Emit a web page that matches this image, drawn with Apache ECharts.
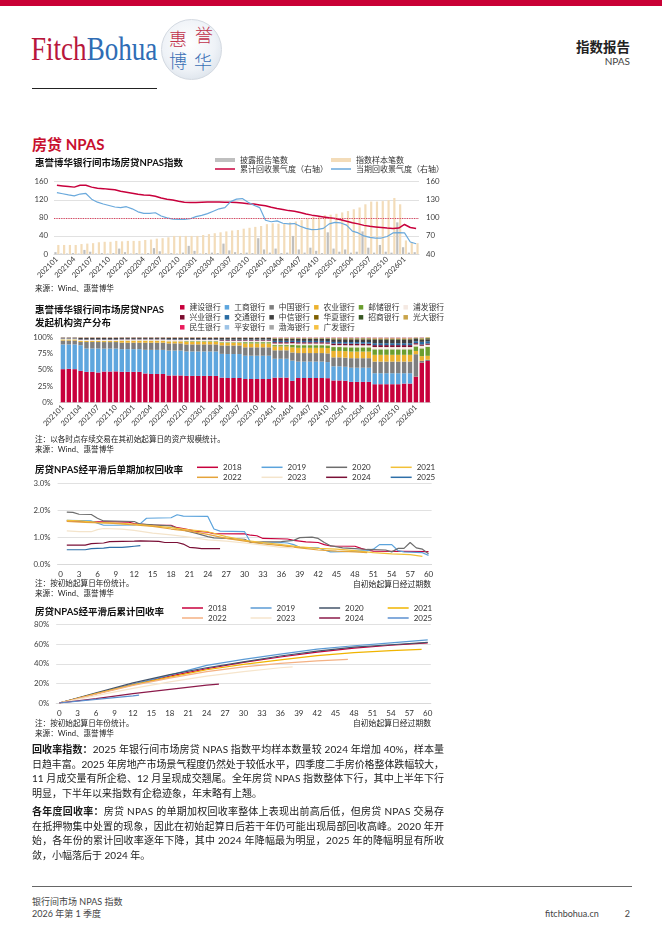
<!DOCTYPE html>
<html lang="zh">
<head>
<meta charset="utf-8">
<title>房贷 NPAS</title>
<script src="https://cdn.jsdelivr.net/npm/echarts@6.0.0/dist/echarts.min.js"></script>
<style>
  body { margin: 0; background: #fff; }
  #page { position: relative; width: 662px; height: 936px; overflow: hidden; background: #fff;
          font-family: Lato, "Noto Sans CJK SC", sans-serif; color: #1a1a1a; }
  .abs { position: absolute; white-space: nowrap; }
  .chart { position: absolute; left: 0; width: 662px; }
  .note { position: absolute; left: 35px; font-size: 7.6px; line-height: 10px; color: #222; white-space: nowrap; }
  .xname { position: absolute; right: 231px; font-size: 7.8px; line-height: 10px; color: #222; white-space: nowrap; }
  .line { position: absolute; left: 32px; font-size: 10px; line-height: 14px; white-space: nowrap; color: #1a1a1a; }
  .seal { position: absolute; left: 161px; top: 19px; width: 61px; height: 61px; border-radius: 50%; box-sizing: border-box;
          border: 1px solid #d3d9e1;
          background: radial-gradient(circle at 45% 40%, #ffffff 0%, #eef2f7 55%, #cfd8e2 100%); }
  .seal span { position: absolute; font-size: 18px; line-height: 19px; font-weight: 300; }
</style>
</head>
<body>
<div id="page">
  <!-- 页眉 -->
  <div class="abs" style="left:0;top:0;width:662px;height:6px;background:#c90035"></div>
  <div class="abs" style="left:31px;top:29px;font:33px 'Liberation Serif',serif;line-height:40px;transform:scaleX(0.82);transform-origin:0 0">
    <span style="color:#b8163c">Fitch</span><span style="color:#2f6db5">Bohua</span>
  </div>
  <div class="seal">
    <span style="left:7px;top:10px;color:#c0304a">惠</span>
    <span style="left:33px;top:6px;color:#c0304a">誉</span>
    <span style="left:7px;top:32px;color:#3a6fb5">博</span>
    <span style="left:32px;top:33px;color:#3a6fb5">华</span>
  </div>
  <div class="abs" style="left:32px;top:88px;width:125px;height:1px;background:#222"></div>
  <div class="abs" style="right:32px;top:39px;font-size:13.5px;line-height:16px;font-weight:bold;color:#222">指数报告</div>
  <div class="abs" style="right:32px;top:55px;font-size:10px;line-height:12px;color:#444">NPAS</div>
  <div class="abs" style="left:32px;top:135px;font-size:15px;line-height:18px;font-weight:bold;color:#c8102e">房贷 NPAS</div>

  <!-- 图表 -->
  <div id="c1" class="chart" style="top:150px;height:140px"></div>
  <div class="note" style="top:283px">来源：Wind、惠誉博华</div>

  <div id="c2" class="chart" style="top:295px;height:160px"></div>
  <div class="note" style="top:434px">注：以各时点存续交易在其初始起算日的资产规模统计。</div>
  <div class="note" style="top:444px">来源：Wind、惠誉博华</div>

  <div id="c3" class="chart" style="top:455px;height:135px"></div>
  <div class="note" style="top:578px">注：按初始起算日年份统计。</div>
  <div class="note" style="top:588px">来源：Wind、惠誉博华</div>
  <div class="xname" style="top:579px">自初始起算日经过期数</div>

  <div id="c4" class="chart" style="top:597px;height:135px"></div>
  <div class="note" style="top:718px">注：按初始起算日年份统计。</div>
  <div class="note" style="top:728px">来源：Wind、惠誉博华</div>
  <div class="xname" style="top:718px">自初始起算日经过期数</div>

  <!-- 正文 -->
  <div class="line jl" style="top:742px"><b>回收率指数：</b>2025 年银行间市场房贷 NPAS 指数平均样本数量较 2024 年增加 40%，样本量</div>
  <div class="line jl" style="top:756.5px">日趋丰富。2025 年房地产市场景气程度仍然处于较低水平，四季度二手房价格整体跌幅较大，</div>
  <div class="line jl" style="top:771px">11 月成交量有所企稳、12 月呈现成交翘尾。全年房贷 NPAS 指数整体下行，其中上半年下行</div>
  <div class="line" style="top:785.5px">明显，下半年以来指数有企稳迹象，年末略有上翘。</div>
  <div class="line jl" style="top:804px"><b>各年度回收率：</b>房贷 NPAS 的单期加权回收率整体上表现出前高后低，但房贷 NPAS 交易存</div>
  <div class="line jl" style="top:818.5px">在抵押物集中处置的现象，因此在初始起算日后若干年仍可能出现局部回收高峰。2020 年开</div>
  <div class="line jl" style="top:833px">始，各年份的累计回收率逐年下降，其中 2024 年降幅最为明显，2025 年的降幅明显有所收</div>
  <div class="line" style="top:847.5px">敛，小幅落后于 2024 年。</div>

  <!-- 页脚 -->
  <div class="abs" style="left:32px;top:886px;width:600px;height:1px;background:#666"></div>
  <div class="abs" style="left:32px;top:896px;font-size:9px;line-height:12px;color:#444">银行间市场 NPAS 指数</div>
  <div class="abs" style="left:32px;top:908px;font-size:9px;line-height:12px;color:#444">2026 年第 1 季度</div>
  <div class="abs" style="left:545px;top:908px;font-size:9px;line-height:12px;color:#444">fitchbohua.cn</div>
  <div class="abs" style="right:32px;top:908px;font-size:9px;line-height:12px;color:#444">2</div>
</div>

<script>
var FONT = 'Lato, "Noto Sans CJK SC", sans-serif';

// ---- 图1：房贷NPAS指数 ----
var months = [
  '202101','202102','202103','202104','202105','202106','202107','202108','202109','202110','202111','202112',
  '202201','202202','202203','202204','202205','202206','202207','202208','202209','202210','202211','202212',
  '202301','202302','202303','202304','202305','202306','202307','202308','202309','202310','202311','202312',
  '202401','202402','202403','202404','202405','202406','202407','202408','202409','202410','202411','202412',
  '202501','202502','202503','202504','202505','202506','202507','202508','202509','202510','202511','202512',
  '202601','202602','202603'
];
var disclosedCnt = [4,1,1,2,1,9,5,1,2,1, 2,12,4,1,2,1,2,13,6,1, 2,1,3,18,7,1,2,3,2,23,
  8,4,2,3,2,35,10,3,12,2, 3,40,10,3,14,7,2,48,12,5, 10,3,5,50,14,3,20,5,3,70, 15,3,4];
var sampleCnt = [20,20,20,20,22,23,24,26,27,27, 29,28,29,29,29,31,32,34,35,37, 40,40,40,40,40,42,44,46,48,50,
  52,53,56,58,60,62,66,68,67,67, 70,72,75,78,82,84,86,87,89,92, 95,99,103,110,116,116,117,119,124,110, 30,26,24];
var cumIndex = [154,153,152,151,154,154,151,149,148.5,147.5, 146.5,144,142.5,141,139,138,137.5,136,133,131,
  129.5,127.5,126,125.5,125.5,126,126.5,126.5,126.5,126, 126,125.5,124.5,123.5,123,121.5,120,117.5,115.5,114,
  112,111,109,106.5,104.5,103,101.5,100,99,97, 94.5,92,90,87.5,86,85,84,83,82.5,83, 89,84,82.5];
var curIndex = [142,140,138,136.5,139.5,140.5,131,126,123,120.5, 118,117,118.5,115,110,107.5,107.5,108.5,103,100,
  98,97.5,97.5,98.5,102,104,107,111,115,117, 127,131,132,126,121,117,96,93.5,95,91,
  90,90.5,86,82.5,80.5,81,82.5,90,92.5,91.5, 88,78,75,70,67.5,66.5,66.5,69,75,75.5, 75,60,57];

// ---- 图2：发起机构资产分布（原始份额，绘制前按月归一化为100%）----
var banks = ['建设银行','工商银行','中国银行','农业银行','邮储银行','浦发银行',
             '兴业银行','交通银行','中信银行','华夏银行','招商银行','光大银行',
             '民生银行','平安银行','渤海银行','广发银行'];
var bankColors = ['#c8003c','#5ea6de','#7f7f7f','#ecb22e','#6b9e2e','#f5e9e2',
                  '#7b0c2e','#2a6ca3','#3f3f3f','#7f6000','#385723','#c9a44a',
                  '#ea1c5c','#9dc3e6','#a6a6a6','#f6c143'];
var shareJianshe = [51,51.5,51,48.5,47,47,46,47,47,47.5,47,47,47,47,44.5,43.5,43.5,43.5,41,41,41,41,41,41,41,41,41,
  38,37,37,37,36,36,36,36,36,38,38,38,34,37,37,37,37,37,36,34,34,33,31,31,31,31,28,28,28,28,28,29,29,39.5,61,63.5];
var shareGongshang = [38,37.5,38,39.5,36,36,37,35,35,35,35,35,35,35,36.5,37,37,37,38,38,38,38,38,38,38,38,38,
  36.5,36.5,36.5,36.5,36,36,36,36,36,29,29,29,32,25,25,25,25,25,24,22,22,21.5,21.5,21.5,21.5,21.5,17,17,17,17,17,16,16,0,0,0];
var shareZhongguo = [6,6,6,5,10,10,10,10,10,10,10,10,10,10,11,11,11,11,11,11,11,11,11,11,11,11,11,
  13,13,13,13,13,13,13,13,13,13,13,13,13,13,13,13,13,13,13,14,14,14,14.5,14.5,14.5,14.5,18,18,18,18,18,18,18,34.5,3,2];
var shareNongye = [1.5,1.5,1.5,1.5,1.5,1.5,1.5,1.5,1.5,1.5, 3,3,3,3,3,3,3,3,3,3,3, 4,4,4,4,4,4,4,4,4,4,
  6,6,6,6,6,6,6,6, 8,8,8,8,8,8,8, 10,10,10,10,10,10,10, 10.5,10.5,10.5,10.5,10.5,10.5,10.5, 5,7,6];
var shareYouchu = [0.3,0.3,0.3,0.3,0.3,0.3,0.3,0.3,0.3,0.3,0.3,0.3,0.3,0.3,0.3,0.3,0.3,0.3,0.3,0.3,0.3,
  1,1,1,1,1,1,1,1,1,1, 2,2,2,2,2,2,2,2, 4,4,4,4,4,4,4, 6,6,6,6.5,6.5,6.5,6.5, 8.5,8.5,8.5,8.5,8.5,8.5,8.5, 7,12,14];
var sharePufa = [1,1,1, 1.5,1.5,1.5,1.5,1.5,1.5,1.5, 1.5,1.5,1.5,1.5,1.5,1.5,1.5,1.5, 1.8,1.8,1.8,1.8,1.8,1.8,1.8,1.8,1.8,
  2,2,2,2,2,2,2,2,2, 2.5,2.5,2.5,2.5,2.5,2.5,2.5,2.5,2.5,2.5, 3,3,3,3,3,3,3, 3.5,3.5,3.5,3.5,3.5,3.5,3.5, 3,4,3];
var shareXingye = [0.3,0.3,0.3, 0.5,0.5,0.5,0.5,0.5,0.5,0.5, 0.5,0.5,0.5,0.5,0.5,0.5,0.5,0.5, 0.6,0.6,0.6,0.6,0.6,0.6,0.6,0.6,0.6,
  1,1,1,1,1,1,1,1,1, 2,2,2,2,2,2,2,2,2,2, 2.5,2.5,2.5,2.5,2.5,2.5,2.5, 3,3,3,3,3,3,3, 2,2,2];
var shareJiaotong = [0.3,0.3,0.3, 0.5,0.5,0.5,0.5,0.5,0.5,0.5, 0.5,0.5,0.5,0.5,0.5,0.5,0.5,0.5, 0.7,0.7,0.7,0.7,0.7,0.7,0.7,0.7,0.7,
  1,1,1,1,1,1,1,1,1, 2,2,2,2,2,2,2,2,2,2, 2.5,2.5,2.5,2.5,2.5,2.5,2.5, 3,3,3,3,3,3,3, 3,4,3.5];
var shareZhongxin = [1,1,1, 2,2,2,2,2,2,2, 1.8,1.8,1.8,1.8,1.8,1.8,1.8,1.8, 2,2,2,2,2,2,2,2,2,
  2.5,2.5,2.5,2.5,2.5,2.5,2.5,2.5,2.5, 3,3,3,3,3,3,3,3,3,3, 4,4,4,4,4,4,4, 5,5,5,5,5,5,5, 4,3,3];
var shareHuaxia = [0.1,0.1,0.1, 0.2,0.2,0.2,0.2,0.2,0.2,0.2, 0.1,0.1,0.1,0.1,0.1,0.1,0.1,0.1, 0.2,0.2,0.2,0.2,0.2,0.2,0.2,0.2,0.2,
  0.2,0.2,0.2,0.2,0.2,0.2,0.2,0.2,0.2, 0.5,0.5,0.5,0.5,0.5,0.5,0.5,0.5,0.5,0.5, 0.6,0.6,0.6,0.6,0.6,0.6,0.6, 0.8,0.8,0.8,0.8,0.8,0.8,0.8, 0.5,1,1];
var shareZhaoshang = [0.1,0.1,0.1, 0.2,0.2,0.2,0.2,0.2,0.2,0.2, 0.2,0.2,0.2,0.2,0.2,0.2,0.2,0.2, 0.2,0.2,0.2,0.2,0.2,0.2,0.2,0.2,0.2,
  0.2,0.2,0.2,0.2,0.2,0.2,0.2,0.2,0.2, 0.5,0.5,0.5,0.5,0.5,0.5,0.5,0.5,0.5,0.5, 0.8,0.8,0.8,0.8,0.8,0.8,0.8, 1,1,1,1,1,1,1, 0.5,1,1];
var shareGuangda = [0.2,0.2,0.2, 0.3,0.3,0.3,0.3,0.3,0.3,0.3, 0.2,0.2,0.2,0.2,0.2,0.2,0.2,0.2, 0.3,0.3,0.3,0.3,0.3,0.3,0.3,0.3,0.3,
  0.3,0.3,0.3,0.3,0.3,0.3,0.3,0.3,0.3, 0.6,0.6,0.6,0.6,0.6,0.6,0.6,0.6,0.6,0.6, 0.8,0.8,0.8,0.8,0.8,0.8,0.8, 1,1,1,1,1,1,1, 0.5,1,1];
var shareMinsheng = [0.1,0.1,0.1, 0.2,0.2,0.2,0.2,0.2,0.2,0.2, 0.2,0.2,0.2,0.2,0.2,0.2,0.2,0.2, 0.2,0.2,0.2,0.2,0.2,0.2,0.2,0.2,0.2,
  0.2,0.2,0.2,0.2,0.2,0.2,0.2,0.2,0.2, 0.5,0.5,0.5,0.5,0.5,0.5,0.5,0.5,0.5,0.5, 0.6,0.6,0.6,0.6,0.6,0.6,0.6, 0.7,0.7,0.7,0.7,0.7,0.7,0.7, 0.3,0.5,0];
var sharePingan = [0.1,0.1,0.1, 0.1,0.1,0.1,0.1,0.1,0.1,0.1, 0,0,0,0,0,0,0,0, 0,0,0,0,0,0,0,0,0,
  0.1,0.1,0.1,0.1,0.1,0.1,0.1,0.1,0.1, 0.2,0.2,0.2,0.2,0.2,0.2,0.2,0.2,0.2,0.2, 0.2,0.2,0.2,0.2,0.2,0.2,0.2, 0.3,0.3,0.3,0.3,0.3,0.3,0.3, 0,0,0];
var shareBohai = [0,0,0, 0,0,0,0,0,0,0, 0,0,0,0,0,0,0,0, 0,0,0,0,0,0,0,0,0,
  0,0,0,0,0,0,0,0,0, 0.1,0.1,0.1,0.1,0.1,0.1,0.1,0.1,0.1,0.1, 0.1,0.1,0.1,0.1,0.1,0.1,0.1, 0.2,0.2,0.2,0.2,0.2,0.2,0.2, 0.2,0.5,0];
var shareGuangfa = [0,0,0, 0,0,0,0,0,0,0, 0,0,0,0,0,0,0,0, 0,0,0,0,0,0,0,0,0,
  0,0,0,0,0,0,0,0,0, 0.1,0.1,0.1,0.1,0.1,0.1,0.1,0.1,0.1,0.1, 0.1,0.1,0.1,0.1,0.1,0.1,0.1, 0.1,0.1,0.1,0.1,0.1,0.1,0.1, 0,0,0];
var bankShares = [shareJianshe, shareGongshang, shareZhongguo, shareNongye, shareYouchu, sharePufa,
  shareXingye, shareJiaotong, shareZhongxin, shareHuaxia, shareZhaoshang, shareGuangda,
  shareMinsheng, sharePingan, shareBohai, shareGuangfa];

// ---- 图3/4：按起算年份的回收率（[期数, %]，读图所得拐点）----
var periods = [0,1,2,3,4,5,6,7,8,9,10,11,12,13,14,15,16,17,18,19,20,21,22,23,24,25,26,27,28,29,30,
  31,32,33,34,35,36,37,38,39,40,41,42,43,44,45,46,47,48,49,50,51,52,53,54,55,56,57,58,59,60];
var years = ['2018','2019','2020','2021','2022','2023','2024','2025'];
var single2018 = [[1,1.6],[4,1.58],[8,1.57],[11,1.56],[12,1.5],[15,1.45],[18,1.44],[19,1.35],[20,1.32],[21,1.27],[22,1.22],
  [24,1.18],[25,1.13],[30,1.12],[31,1.07],[32,1.05],[33,0.95],[37,0.93],[38,0.88],[39,0.85],[40,0.82],[42,0.8],[43,0.72],
  [44,0.67],[48,0.66],[49,0.58],[50,0.52],[51,0.48],[60,0.46]];
var single2019 = [[1,1.62],[5,1.6],[6,1.52],[7,1.44],[9,1.44],[12,1.45],[13,1.5],[14,1.7],[18,1.72],[19,1.83],[20,1.78],
  [24,1.77],[25,1.3],[26,1.22],[30,1.2],[31,0.8],[33,0.78],[36,0.8],[37,0.78],[38,0.72],[39,0.62],[42,0.6],[43,0.52],
  [44,0.45],[46,0.46],[50,0.5],[51,0.55],[52,0.72],[54,0.72],[55,0.5],[56,0.45],[59,0.42],[60,0.32]];
var single2020 = [[1,1.93],[2,1.92],[3,1.85],[5,1.84],[6,1.7],[7,1.6],[12,1.58],[13,1.48],[18,1.42],[19,1.32],[21,1.2],
  [22,1.15],[24,1.02],[25,0.97],[27,0.95],[30,0.92],[31,0.8],[33,0.82],[36,0.83],[38,0.88],[39,0.98],[41,1.0],[42,0.95],
  [43,0.8],[44,0.68],[46,0.6],[48,0.57],[50,0.54],[53,0.52],[54,0.45],[55,0.58],[56,0.58],[57,0.8],[58,0.6],[59,0.55],[60,0.38]];
var single2021 = [[1,1.62],[3,1.6],[6,1.55],[9,1.52],[12,1.48],[15,1.42],[18,1.35],[21,1.27],[24,1.2],[27,1.02],[30,0.88],
  [33,0.8],[36,0.72],[39,0.64],[42,0.58],[45,0.55],[48,0.5],[51,0.42],[54,0.38],[57,0.35],[59,0.28]];
var single2022 = [[1,1.58],[4,1.55],[8,1.52],[12,1.45],[15,1.4],[18,1.3],[21,1.22],[24,1.1],[27,0.95],[30,0.85],[33,0.75],
  [36,0.68],[39,0.6],[42,0.52],[45,0.48],[48,0.45],[50,0.42]];
var single2023 = [[1,1.23],[3,1.2],[5,1.2],[6,1.28],[7,1.32],[10,1.3],[12,1.25],[15,1.15],[18,1.08],[21,1.0],[24,0.9],
  [27,0.85],[30,0.78],[33,0.7],[36,0.62],[38,0.6]];
var single2024 = [[1,0.7],[4,0.7],[5,0.76],[7,0.78],[8,0.83],[12,0.85],[13,0.86],[16,0.84],[17,0.8],[19,0.8],[20,0.74],
  [21,0.62],[22,0.6],[23,0.57],[26,0.57]];
var single2025 = [[1,0.53],[4,0.53],[5,0.57],[7,0.59],[8,0.62],[10,0.62],[11,0.64],[12,0.66],[13,0.68]];
var singleRates = [single2018, single2019, single2020, single2021, single2022, single2023, single2024, single2025];
var singleColors = ['#c8003c','#5ba3dc','#6d6d6d','#f2c037','#e5a33a','#f4e4cb','#7a0f36','#2e6fa8'];

var cum2018 = [[0,0],[6,9.5],[12,19],[18,27.5],[24,35],[30,41.5],[36,47],[42,52],[48,56],[54,59],[60,61.5]];
var cum2019 = [[0,0],[6,9.5],[12,19],[18,28.5],[24,38.5],[30,44.5],[36,50],[42,55],[48,58.5],[54,61.5],[60,64.5]];
var cum2020 = [[0,0],[6,10.5],[12,20.5],[18,29],[24,36],[30,42],[36,48],[42,53],[48,57],[54,59.5],[60,62]];
var cum2021 = [[0,0],[6,9.5],[12,18.5],[18,26.5],[24,34],[30,39.5],[36,44],[42,48.5],[48,51.5],[54,53.5],[59,54.8]];
var cum2022 = [[0,0],[6,9],[12,18],[18,25.5],[24,32],[30,37],[36,40.5],[42,43],[47,44.5]];
var cum2023 = [[0,0],[6,7.5],[12,15],[18,21.5],[24,27.5],[30,32],[36,36],[38,37]];
var cum2024 = [[0,0],[6,4.5],[12,9.5],[18,14],[24,18.2],[26,19.3]];
var cum2025 = [[0,0],[6,3.8],[12,7.3],[13,8]];
var cumRates = [cum2018, cum2019, cum2020, cum2021, cum2022, cum2023, cum2024, cum2025];
var cumColors = ['#c8003c','#5b9bd5','#44546a','#f0b400','#f4b183','#f6e5cc','#8b1a4a','#5b8fd0'];

function legendRow(names, left, top, gap, w, h, size) {
  return {
    data: names, left: left, top: top, padding: 0, itemGap: gap,
    itemWidth: w, itemHeight: h, icon: 'rect', selectedMode: false,
    textStyle: { fontSize: size || 8, color: '#333', fontFamily: FONT, lineHeight: 10 }
  };
}
function titleAt(text, top, lh) {
  return { text: text, left: 35, top: top, padding: 0,
    textStyle: { fontSize: 9.5, fontWeight: 'bold', color: '#111', fontFamily: FONT, lineHeight: lh || 12 } };
}
var axisLabelY = { fontSize: 7.8, color: '#404040', fontFamily: FONT };

// 图1
var c1 = echarts.init(document.getElementById('c1'));
c1.setOption({
  animation: false,
  textStyle: { fontFamily: FONT },
  title: titleAt('惠誉博华银行间市场房贷NPAS指数', 7),
  legend: [
    legendRow(['披露报告笔数'], 215, 5, 5, 20, 4),
    legendRow(['指数样本笔数'], 331, 5, 5, 20, 4),
    legendRow(['累计回收景气度（右轴）'], 215, 14, 5, 20, 1.5),
    legendRow(['当期回收景气度（右轴）'], 331, 14, 5, 20, 1.5)
  ],
  grid: { left: 54, top: 31.7, width: 365, height: 72.3, containLabel: false, outerBoundsMode: 'none' },
  xAxis: {
    type: 'category', data: months,
    axisTick: { show: false },
    axisLine: { lineStyle: { color: '#d9d9d9' } },
    axisLabel: { interval: 2, rotate: 45, fontSize: 7.5, color: '#333', margin: 4, fontFamily: FONT }
  },
  yAxis: [
    { type: 'value', min: 0, max: 160, interval: 40, axisLabel: Object.assign({ margin: 6 }, axisLabelY),
      axisLine: { show: false }, axisTick: { show: false },
      splitLine: { lineStyle: { color: '#d9d9d9', width: 0.8 } } },
    { type: 'value', min: 40, max: 160, interval: 30, position: 'right',
      axisLabel: Object.assign({ margin: 7 }, axisLabelY),
      axisLine: { show: false }, axisTick: { show: false }, splitLine: { show: false } }
  ],
  series: [
    { name: '披露报告笔数', type: 'bar', data: disclosedCnt, barWidth: 2.2, barGap: '30%',
      itemStyle: { color: '#bfbfbf' } },
    { name: '指数样本笔数', type: 'bar', data: sampleCnt, barWidth: 2.2,
      itemStyle: { color: '#f3dcb9' } },
    { name: '累计回收景气度（右轴）', type: 'line', yAxisIndex: 1, data: cumIndex, symbol: 'none',
      lineStyle: { color: '#c8003c', width: 1.5 }, itemStyle: { color: '#c8003c' },
      markLine: { silent: true, symbol: 'none', label: { show: false },
        lineStyle: { color: '#e0405e', type: 'dotted', width: 1.2 }, data: [{ yAxis: 100 }] } },
    { name: '当期回收景气度（右轴）', type: 'line', yAxisIndex: 1, data: curIndex, symbol: 'none',
      lineStyle: { color: '#6aa9dc', width: 1.2 }, itemStyle: { color: '#6aa9dc' } }
  ]
});

// 图2
var totals = months.map(function (m, i) {
  return bankShares.reduce(function (s, arr) { return s + arr[i]; }, 0);
});
var c2 = echarts.init(document.getElementById('c2'));
c2.setOption({
  animation: false,
  textStyle: { fontFamily: FONT },
  title: titleAt('惠誉博华银行间市场房贷NPAS\n发起机构资产分布', 8.3, 13.3),
  legend: [
    legendRow(banks.slice(0, 6), 180, 7.3, 4, 4.5, 4.5, 7.8),
    legendRow(banks.slice(6, 12), 180, 17.3, 4, 4.5, 4.5, 7.8),
    legendRow(banks.slice(12), 180, 27.3, 4, 4.5, 4.5, 7.8)
  ],
  grid: { left: 60, top: 42.3, width: 370.6, height: 65, containLabel: false, outerBoundsMode: 'none' },
  xAxis: {
    type: 'category', data: months,
    axisTick: { show: false },
    axisLine: { lineStyle: { color: '#d9d9d9' } },
    axisLabel: { interval: 2, rotate: 45, fontSize: 7.5, color: '#333', margin: 4, fontFamily: FONT }
  },
  yAxis: {
    type: 'value', min: 0, max: 100, interval: 25,
    axisLabel: Object.assign({ margin: 7, formatter: '{value}%' }, axisLabelY),
    axisLine: { show: false }, axisTick: { show: false }, splitLine: { show: false }
  },
  series: banks.map(function (name, k) {
    return {
      name: name, type: 'bar', stack: 'share', barCategoryGap: '25%',
      itemStyle: { color: bankColors[k] },
      data: bankShares[k].map(function (v, i) { return v / totals[i] * 100; })
    };
  })
});

// 图3、图4 共用
function yearChart(el, title, series, colors, yMax, yStep, fmt, legLeft, legTop, legGap, grid) {
  var chart = echarts.init(document.getElementById(el));
  chart.setOption({
    animation: false,
    textStyle: { fontFamily: FONT },
    title: titleAt(title, 9),
    legend: [
      legendRow(years.slice(0, 4), legLeft, legTop, legGap, 21, 1.5),
      legendRow(years.slice(4), legLeft, legTop + 10, legGap, 21, 1.5)
    ],
    grid: grid,
    xAxis: {
      type: 'category', data: periods,
      axisTick: { show: false },
      axisLine: { lineStyle: { color: '#d9d9d9' } },
      axisLabel: { interval: 2, fontSize: 8, color: '#333', margin: 6, fontFamily: FONT }
    },
    yAxis: {
      type: 'value', min: 0, max: yMax, interval: yStep,
      axisLabel: Object.assign({ margin: 7, formatter: fmt }, axisLabelY),
      axisLine: { show: false }, axisTick: { show: false },
      splitLine: { lineStyle: { color: '#d9d9d9', width: 0.8 } }
    },
    series: years.map(function (y, k) {
      return {
        name: y, type: 'line', data: series[k], symbol: 'none',
        lineStyle: { color: colors[k], width: 1.2 }, itemStyle: { color: colors[k] }
      };
    })
  });
}
yearChart('c3', '房贷NPAS经平滑后单期加权回收率', singleRates, singleColors, 3, 1,
  function (v) { return v.toFixed(1) + '%'; }, 197, 7.3, 20,
  { left: 57.6, top: 28.3, width: 374, height: 80.7, containLabel: false, outerBoundsMode: 'none' });
yearChart('c4', '房贷NPAS经平滑后累计回收率', cumRates, cumColors, 80, 20,
  function (v) { return v + '%'; }, 182, 6, 24,
  { left: 56.2, top: 27.7, width: 374.6, height: 78.3, containLabel: false, outerBoundsMode: 'none' });

// 正文两端对齐：按实测宽度调整字距
document.querySelectorAll('.jl').forEach(function (el) {
  var w = el.getBoundingClientRect().width;
  var n = el.textContent.length;
  el.style.letterSpacing = ((412 - w) / (n - 1)) + 'px';
});
</script>
</body>
</html>
